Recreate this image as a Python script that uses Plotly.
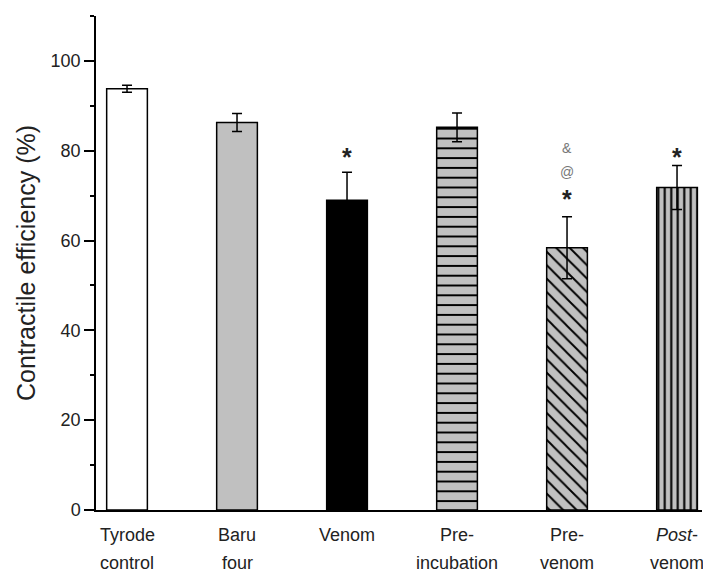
import plotly.graph_objects as go

# ---- data ----
categories = ["Tyrode control", "Baru four", "Venom", "Pre-incubation", "Pre-venom", "Post-venom"]
label_line1 = ["Tyrode", "Baru", "Venom", "Pre-", "Pre-", "<i>Post</i>-"]
label_line2 = ["control", "four", "", "incubation", "venom", "venom"]
means = [93.8, 86.3, 69.0, 85.2, 58.4, 71.8]
sem = [0.8, 2.0, 6.2, 3.2, 6.9, 4.9]

# significance marks: (category index, symbol, value position)
mark_cat = [2, 4, 4, 4, 5]
mark_sym = ["*", "*", "@", "&", "*"]
mark_val = [79.8, 70.4, 75.2, 80.6, 79.8]

yticks = [0, 20, 40, 60, 80, 100]

# ---- styles ----
fill_colors = ["white", "#c0c0c0", "black", "#c0c0c0", "#c0c0c0", "#c0c0c0"]
pattern_shapes = ["", "", "", "-", "\\", "|"]
pattern_sizes = [8, 8, 8, 9.8, 9.5, 6.5]
pattern_solid = [0.2, 0.2, 0.2, 0.2, 0.2, 0.32]

xpos = list(range(len(categories)))
FONT = "Liberation Sans, Arial, sans-serif"

fig = go.Figure()
for i in xpos:
    marker = dict(color=fill_colors[i], line=dict(color="black", width=1.5))
    if pattern_shapes[i]:
        marker["pattern"] = dict(shape=pattern_shapes[i], size=pattern_sizes[i],
                                 solidity=pattern_solid[i], fgcolor="black",
                                 bgcolor=fill_colors[i], fillmode="replace")
    fig.add_trace(go.Bar(
        x=[i], y=[means[i]], width=0.37, name=categories[i],
        marker=marker,
        error_y=dict(type="data", array=[sem[i]], visible=True, color="black",
                     thickness=1.5, width=5),
        showlegend=False, hoverinfo="skip",
    ))

annotations = []
for i in xpos:
    annotations.append(dict(x=i, y=0, xref="x", yref="paper", text=label_line1[i],
                            showarrow=False, yanchor="middle", yshift=-25,
                            font=dict(family=FONT, size=18, color="#222")))
    if label_line2[i]:
        annotations.append(dict(x=i, y=0, xref="x", yref="paper", text=label_line2[i],
                                showarrow=False, yanchor="middle", yshift=-53,
                                font=dict(family=FONT, size=18, color="#222")))

for c, s, v in zip(mark_cat, mark_sym, mark_val):
    if s == "*":
        annotations.append(dict(x=c, y=v, xref="x", yref="y", text="<b>*</b>", showarrow=False,
                                yanchor="middle", yshift=-5,
                                font=dict(family=FONT, size=25, color="#222")))
    else:
        annotations.append(dict(x=c, y=v, xref="x", yref="y", text=s, showarrow=False,
                                yanchor="middle",
                                font=dict(family=FONT, size=14, color="#777")))

fig.update_layout(
    width=703, height=565,
    margin=dict(l=88, r=9, t=8, b=63),
    paper_bgcolor="white", plot_bgcolor="white",
    font=dict(family=FONT, size=18, color="#222"),
    barmode="overlay",
    annotations=annotations,
)
fig.update_xaxes(
    range=[-0.282, 5.227], tickvals=xpos, showticklabels=False, ticks="",
    showline=True, linecolor="black", linewidth=1.5, showgrid=False, zeroline=False,
)
fig.update_yaxes(
    range=[0, 110], tickvals=yticks, ticks="outside", ticklen=10, tickwidth=1.5, tickcolor="black",
    showline=True, linecolor="black", linewidth=1.5, showgrid=False, zeroline=False,
    minor=dict(dtick=10, ticks="outside", ticklen=4, tickwidth=1.5, tickcolor="black"),
    tickfont=dict(family=FONT, size=18, color="#222"),
    title=dict(text="Contractile efficiency (%)", font=dict(family=FONT, size=25, color="#222"), standoff=8),
)

fig.write_html("out.html")
